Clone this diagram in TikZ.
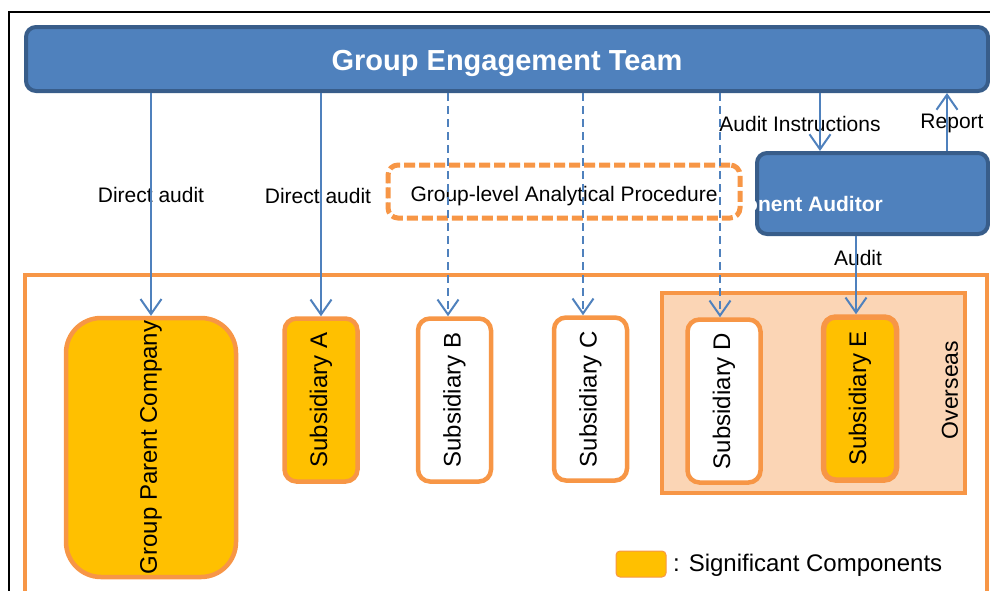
\documentclass[tikz,border=0pt]{standalone}
\usepackage{fontspec}
\setmainfont{Liberation Sans}
\usetikzlibrary{arrows.meta,positioning,calc}
\definecolor{teamblue}{RGB}{79,129,189}
\definecolor{teamedge}{RGB}{56,93,138}
\definecolor{comporange}{RGB}{247,150,70}
\definecolor{compgold}{RGB}{255,192,0}
\definecolor{overseaspeach}{RGB}{251,213,181}

\tikzset{
  bluebox/.style={draw=teamedge,fill=teamblue,line width=4pt,rounded corners=10pt,inner sep=0pt},
  compbox/.style={draw=comporange,fill=white,line width=4.5pt,rounded corners=12pt,rotate=90,
    inner sep=0pt,minimum width=163pt,minimum height=73pt,font=\fontsize{24}{28}\selectfont},
  signif/.style={compbox,fill=compgold},
  lbl/.style={font=\fontsize{21}{25}\selectfont,inner sep=1pt},
  link/.style={draw=teamblue,line width=2pt,-{Straight Barb[length=15pt,width=21pt]}},
  dlink/.style={link,dash pattern=on 8pt off 5pt},
}

\begin{document}
\begin{tikzpicture}[x=1pt,y=-1pt]
  \useasboundingbox (0,0) rectangle (990,590);
  \clip (0,0) rectangle (990,590);
  % frame and component area
  \draw[line width=1.5pt] (9,600) -- (9,12) -- (1000,12);
  \draw[comporange,line width=4pt] (25,275) rectangle (987,640);
  \node[draw=comporange,fill=overseaspeach,line width=3.5pt,minimum width=303pt,minimum height=200pt,inner sep=0pt] (ovs) at (813.5,393) {};
  \node[rotate=90,font=\fontsize{23}{27}\selectfont] (ovslabel) at (950,390) {Overseas};

  % components
  \node[signif,rounded corners=35pt,minimum width=259pt,minimum height=170pt] (gpc) at (151,447.5) {Group Parent Company};
  \node[signif] (suba) at (321,400) {Subsidiary A};
  \node[compbox] (subb) at (454.5,400) {Subsidiary B};
  \node[compbox] (subc) at (590.5,399) {Subsidiary C};
  \node[compbox] (subd) at (724,401) {Subsidiary D};
  \node[signif,line width=5.5pt] (sube) at (860,398.5) {Subsidiary E};

  % auditors
  \node[bluebox,minimum width=962pt,minimum height=64pt,text=white,text height=22pt,text depth=0pt,
    font=\fontsize{29}{34}\selectfont\bfseries] (get) at (507,59) {Group Engagement Team};
  \node[bluebox,minimum width=231pt,minimum height=81pt] (ca) at (872.5,193.5) {};
  \node[anchor=east,text=white,font=\fontsize{21}{25}\selectfont\bfseries,inner sep=0pt] (catext) at (883,206) {Component Auditor};
  \node[draw=comporange,fill=white,line width=5pt,dash pattern=on 11pt off 4pt,rounded corners=10pt,
    preaction={draw=black!70,line width=0.8pt},minimum width=352pt,minimum height=53pt,
    text height=20pt,text depth=0pt,font=\fontsize{21}{25}\selectfont,inner sep=0pt] (gap) at (564,191.5) {Group-level Analytical Procedure};

  % labels
  \node[lbl] (da1) at (151,195) {Direct audit};
  \node[lbl] (da2) at (318,196) {Direct audit};
  \node[lbl] (ailabel) at (800,124) {Audit Instructions};
  \node[lbl] (rplabel) at (952,123) {Report};
  \node[lbl] (aulabel) at (858,258) {Audit};

  % legend
  \node[draw=comporange,fill=compgold,line width=1pt,rounded corners=4pt,minimum width=50pt,minimum height=26pt,inner sep=0pt] (key) at (641,564) {};
  \node[anchor=west,font=\fontsize{24}{28}\selectfont,inner sep=0pt] (keytext) at (673,565) {: Significant Components};

  % connectors
  \coordinate (bx) at (448,0);
  \coordinate (cx) at (583,0);
  \coordinate (dx) at (720,0);
  \coordinate (ex) at (856,0);
  \coordinate (aix) at (820,0);
  \coordinate (rpx) at (947,0);
  \draw[link] (get.south -| gpc.east) -- (gpc.east);
  \draw[link] (get.south -| suba.east) -- (suba.east);
  \draw[dlink] (get.south -| bx) -- (subb.east -| bx);
  \draw[dlink] (get.south -| cx) -- (subc.east -| cx);
  \draw[dlink] (get.south -| dx) -- (subd.east -| dx);
  \draw[link] (get.south -| aix) -- (ca.north -| aix);
  \draw[link] (ca.north -| rpx) -- (get.south -| rpx);
  \draw[link] (ca.south -| ex) -- (sube.east -| ex);
\end{tikzpicture}
\end{document}
